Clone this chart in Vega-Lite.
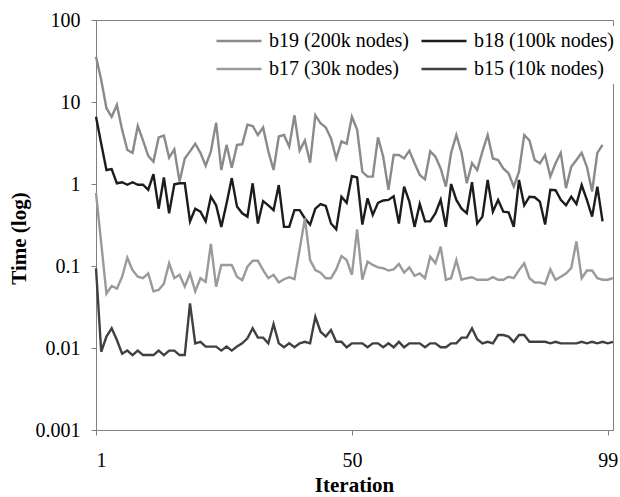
{
  "$schema": "https://vega.github.io/schema/vega-lite/v6.json",
  "width": 517,
  "height": 410,
  "autosize": {"type": "none"},
  "padding": {"left": 96, "top": 20, "right": 7, "bottom": 67},
  "background": "white",
  "config": {
    "view": {"stroke": "#808080", "strokeWidth": 1},
    "axis": {
      "grid": false,
      "domainColor": "#808080",
      "tickColor": "#808080",
      "tickSize": 5,
      "labelFont": "Liberation Serif",
      "labelFontSize": 20,
      "labelColor": "#000000",
      "titleFont": "Liberation Serif",
      "titleFontSize": 21,
      "titleFontWeight": "bold",
      "titleColor": "#000000"
    }
  },
  "data": {
    "values": [
      {"i":1,"b19":35.7,"b18":6.6,"b17":0.78,"b15":0.094},
      {"i":2,"b19":18.5,"b18":3.1,"b17":0.19,"b15":0.009},
      {"i":3,"b19":8.4,"b18":1.48,"b17":0.046,"b15":0.0138},
      {"i":4,"b19":6.6,"b18":1.52,"b17":0.057,"b15":0.0174},
      {"i":5,"b19":9.2,"b18":1.02,"b17":0.053,"b15":0.0125},
      {"i":6,"b19":4.6,"b18":1.05,"b17":0.074,"b15":0.0085},
      {"i":7,"b19":2.6,"b18":0.98,"b17":0.126,"b15":0.0093},
      {"i":8,"b19":2.4,"b18":1.05,"b17":0.089,"b15":0.0082},
      {"i":9,"b19":5.1,"b18":0.98,"b17":0.074,"b15":0.0093},
      {"i":10,"b19":3.4,"b18":0.98,"b17":0.071,"b15":0.0082},
      {"i":11,"b19":2.2,"b18":0.85,"b17":0.081,"b15":0.0082},
      {"i":12,"b19":1.87,"b18":1.32,"b17":0.049,"b15":0.0082},
      {"i":13,"b19":3.7,"b18":0.5,"b17":0.051,"b15":0.0093},
      {"i":14,"b19":3.9,"b18":1.2,"b17":0.061,"b15":0.0082},
      {"i":15,"b19":2.1,"b18":0.44,"b17":0.108,"b15":0.0093},
      {"i":16,"b19":2.65,"b18":0.99,"b17":0.071,"b15":0.0093},
      {"i":17,"b19":1.07,"b18":1.02,"b17":0.078,"b15":0.0082},
      {"i":18,"b19":2.05,"b18":1.02,"b17":0.056,"b15":0.0082},
      {"i":19,"b19":2.5,"b18":0.35,"b17":0.081,"b15":0.035},
      {"i":20,"b19":3.1,"b18":0.5,"b17":0.049,"b15":0.0114},
      {"i":21,"b19":2.4,"b18":0.46,"b17":0.071,"b15":0.0119},
      {"i":22,"b19":1.67,"b18":0.35,"b17":0.064,"b15":0.0104},
      {"i":23,"b19":2.5,"b18":0.7,"b17":0.186,"b15":0.0104},
      {"i":24,"b19":5.6,"b18":0.55,"b17":0.056,"b15":0.0104},
      {"i":25,"b19":1.48,"b18":0.3,"b17":0.103,"b15":0.0093},
      {"i":26,"b19":3.0,"b18":0.58,"b17":0.103,"b15":0.0104},
      {"i":27,"b19":1.58,"b18":1.18,"b17":0.103,"b15":0.0093},
      {"i":28,"b19":3.0,"b18":0.53,"b17":0.074,"b15":0.0104},
      {"i":29,"b19":3.05,"b18":0.44,"b17":0.067,"b15":0.0114},
      {"i":30,"b19":5.3,"b18":0.4,"b17":0.098,"b15":0.0131},
      {"i":31,"b19":5.1,"b18":1.02,"b17":0.116,"b15":0.0174},
      {"i":32,"b19":3.96,"b18":0.33,"b17":0.116,"b15":0.0134},
      {"i":33,"b19":4.9,"b18":0.62,"b17":0.089,"b15":0.0134},
      {"i":34,"b19":2.5,"b18":0.55,"b17":0.071,"b15":0.0114},
      {"i":35,"b19":1.48,"b18":0.48,"b17":0.078,"b15":0.0196},
      {"i":36,"b19":3.8,"b18":0.97,"b17":0.063,"b15":0.0114},
      {"i":37,"b19":3.96,"b18":0.3,"b17":0.069,"b15":0.0102},
      {"i":38,"b19":2.85,"b18":0.3,"b17":0.073,"b15":0.0114},
      {"i":39,"b19":6.9,"b18":0.48,"b17":0.069,"b15":0.0102},
      {"i":40,"b19":2.55,"b18":0.48,"b17":0.16,"b15":0.0114},
      {"i":41,"b19":3.4,"b18":0.38,"b17":0.38,"b15":0.0119},
      {"i":42,"b19":1.82,"b18":0.32,"b17":0.118,"b15":0.0114},
      {"i":43,"b19":6.9,"b18":0.5,"b17":0.089,"b15":0.024},
      {"i":44,"b19":5.5,"b18":0.57,"b17":0.083,"b15":0.0158},
      {"i":45,"b19":4.9,"b18":0.54,"b17":0.071,"b15":0.0138},
      {"i":46,"b19":3.6,"b18":0.33,"b17":0.071,"b15":0.0166},
      {"i":47,"b19":2.05,"b18":0.28,"b17":0.091,"b15":0.0119},
      {"i":48,"b19":3.3,"b18":0.7,"b17":0.132,"b15":0.0119},
      {"i":49,"b19":3.1,"b18":0.59,"b17":0.118,"b15":0.0102},
      {"i":50,"b19":6.6,"b18":1.25,"b17":0.078,"b15":0.0114},
      {"i":51,"b19":4.6,"b18":1.2,"b17":0.28,"b15":0.0114},
      {"i":52,"b19":1.41,"b18":0.32,"b17":0.068,"b15":0.0114},
      {"i":53,"b19":1.23,"b18":0.67,"b17":0.113,"b15":0.0102},
      {"i":54,"b19":1.23,"b18":0.42,"b17":0.103,"b15":0.0114},
      {"i":55,"b19":3.7,"b18":0.59,"b17":0.096,"b15":0.0114},
      {"i":56,"b19":2.15,"b18":0.63,"b17":0.094,"b15":0.0102},
      {"i":57,"b19":0.85,"b18":0.64,"b17":0.088,"b15":0.0114},
      {"i":58,"b19":2.26,"b18":0.71,"b17":0.091,"b15":0.0102},
      {"i":59,"b19":2.26,"b18":0.33,"b17":0.106,"b15":0.0119},
      {"i":60,"b19":2.05,"b18":0.93,"b17":0.083,"b15":0.0102},
      {"i":61,"b19":2.55,"b18":0.61,"b17":0.096,"b15":0.0114},
      {"i":62,"b19":1.79,"b18":0.3,"b17":0.076,"b15":0.0114},
      {"i":63,"b19":1.29,"b18":0.57,"b17":0.081,"b15":0.0114},
      {"i":64,"b19":1.14,"b18":0.35,"b17":0.071,"b15":0.0102},
      {"i":65,"b19":2.5,"b18":0.35,"b17":0.13,"b15":0.0114},
      {"i":66,"b19":2.15,"b18":0.44,"b17":0.108,"b15":0.0114},
      {"i":67,"b19":1.55,"b18":0.64,"b17":0.172,"b15":0.0102},
      {"i":68,"b19":0.93,"b18":0.3,"b17":0.068,"b15":0.0102},
      {"i":69,"b19":2.4,"b18":1.0,"b17":0.071,"b15":0.0114},
      {"i":70,"b19":3.96,"b18":0.64,"b17":0.118,"b15":0.0114},
      {"i":71,"b19":2.4,"b18":0.5,"b17":0.068,"b15":0.0134},
      {"i":72,"b19":1.02,"b18":0.44,"b17":0.071,"b15":0.0134},
      {"i":73,"b19":1.79,"b18":1.05,"b17":0.073,"b15":0.0174},
      {"i":74,"b19":1.48,"b18":0.33,"b17":0.068,"b15":0.0128},
      {"i":75,"b19":2.5,"b18":0.4,"b17":0.068,"b15":0.0114},
      {"i":76,"b19":3.96,"b18":1.12,"b17":0.068,"b15":0.0119},
      {"i":77,"b19":2.05,"b18":0.46,"b17":0.073,"b15":0.0114},
      {"i":78,"b19":1.96,"b18":0.64,"b17":0.068,"b15":0.0144},
      {"i":79,"b19":1.55,"b18":0.46,"b17":0.068,"b15":0.0144},
      {"i":80,"b19":1.35,"b18":0.45,"b17":0.074,"b15":0.0138},
      {"i":81,"b19":0.93,"b18":0.3,"b17":0.071,"b15":0.0119},
      {"i":82,"b19":1.41,"b18":1.12,"b17":0.089,"b15":0.0144},
      {"i":83,"b19":3.96,"b18":0.55,"b17":0.108,"b15":0.0144},
      {"i":84,"b19":3.4,"b18":0.7,"b17":0.071,"b15":0.0119},
      {"i":85,"b19":1.96,"b18":0.69,"b17":0.063,"b15":0.0119},
      {"i":86,"b19":1.79,"b18":0.61,"b17":0.063,"b15":0.0119},
      {"i":87,"b19":2.26,"b18":0.32,"b17":0.06,"b15":0.0119},
      {"i":88,"b19":1.23,"b18":0.85,"b17":0.091,"b15":0.0114},
      {"i":89,"b19":1.79,"b18":0.84,"b17":0.068,"b15":0.0119},
      {"i":90,"b19":2.4,"b18":0.64,"b17":0.074,"b15":0.0114},
      {"i":91,"b19":0.89,"b18":0.55,"b17":0.081,"b15":0.0114},
      {"i":92,"b19":1.62,"b18":0.7,"b17":0.094,"b15":0.0114},
      {"i":93,"b19":1.96,"b18":0.57,"b17":0.2,"b15":0.0114},
      {"i":94,"b19":2.4,"b18":0.97,"b17":0.071,"b15":0.0119},
      {"i":95,"b19":1.62,"b18":0.64,"b17":0.088,"b15":0.0114},
      {"i":96,"b19":0.81,"b18":0.4,"b17":0.088,"b15":0.0119},
      {"i":97,"b19":2.4,"b18":0.93,"b17":0.071,"b15":0.0114},
      {"i":98,"b19":3.0,"b18":0.35,"b17":0.068,"b15":0.0119},
      {"i":99,"b17":0.068,"b15":0.0114},
      {"i":100,"b17":0.071,"b15":0.0119}
    ]
  },
  "transform": [
    {"fold": ["b19", "b18", "b17", "b15"], "as": ["key", "t"]},
    {"filter": "isValid(datum.t)"}
  ],
  "mark": {"type": "line", "strokeWidth": 2.4, "strokeJoin": "miter", "strokeMiterLimit": 4},
  "encoding": {
    "x": {
      "field": "i",
      "type": "quantitative",
      "scale": {"domain": [1, 100], "nice": false, "zero": false},
      "axis": {"values": [1, 50, 99], "title": "Iteration", "labelPadding": 15, "titleBaseline": "alphabetic", "titleY": 61, "titleX": 258}
    },
    "y": {
      "field": "t",
      "type": "quantitative",
      "scale": {"type": "log", "domain": [0.001, 100], "nice": false},
      "axis": {"values": [0.001, 0.01, 0.1, 1, 10, 100], "format": "~g", "title": "Time (log)", "labelPadding": 11, "titleX": -77, "titleY": 218, "titleAngle": -90, "titleBaseline": "middle", "titleAlign": "center"}
    },
    "color": {
      "field": "key",
      "type": "nominal",
      "scale": {"domain": ["b19", "b17", "b18", "b15"], "range": ["#8a8a8a", "#9a9a9a", "#1c1c1c", "#404040"]},
      "legend": {
        "orient": "none",
        "legendX": 114,
        "legendY": 6,
        "columns": 2,
        "title": null,
        "symbolType": "stroke",
        "symbolSize": 2025,
        "symbolStrokeWidth": 2.5,
        "clipHeight": 20,
        "labelFont": "Liberation Serif",
        "labelFontSize": 20,
        "labelColor": "#000000",
        "labelOffset": 6,
        "labelLimit": 300,
        "columnPadding": 11,
        "rowPadding": 8,
        "fillColor": "white",
        "padding": 5,
        "labelExpr": "datum.label == 'b19' ? 'b19 (200k nodes)' : datum.label == 'b18' ? 'b18 (100k nodes)' : datum.label == 'b17' ? 'b17 (30k nodes)' : 'b15 (10k nodes)'"
      }
    }
  }
}
